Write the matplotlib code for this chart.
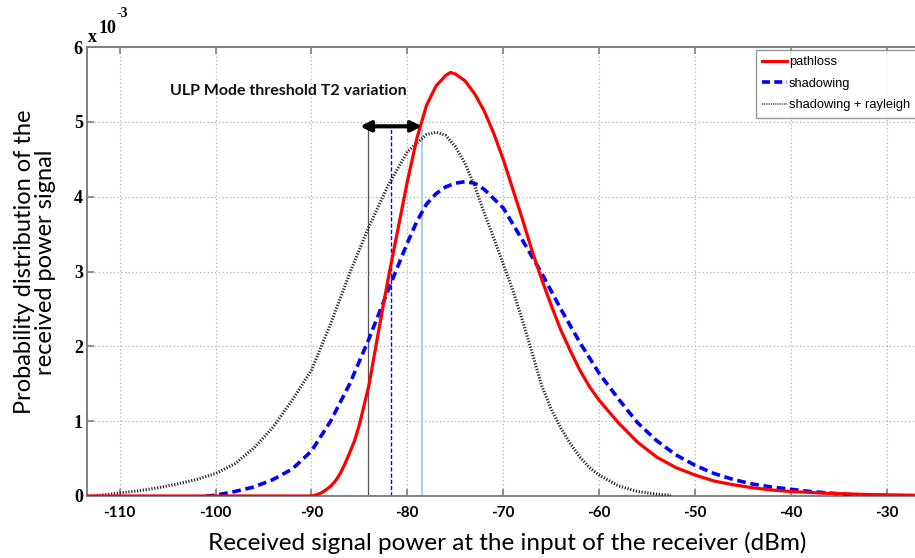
import matplotlib
matplotlib.use("Agg")
import matplotlib.pyplot as plt
from matplotlib.lines import Line2D

# Received power (dBm) and probability density (x 1e-3) for each propagation model
pathloss_x = [-113.4, -95, -90, -89.5, -89, -88.5, -88, -87.5, -87, -86.5, -86, -85.5, -85,
              -84, -83, -82, -81, -80, -79, -78, -77, -76, -75.5, -75, -74, -73, -72, -71,
              -70, -69, -68, -67, -66, -65, -64, -63, -62, -61, -60, -58, -56, -54, -52,
              -50, -48, -46, -44, -42, -40, -36, -32, -27]
pathloss_y = [0.0, 0.0, 0.0, 0.015, 0.04, 0.08, 0.13, 0.2, 0.3, 0.43, 0.58, 0.74, 0.95,
              1.48, 2.2, 2.9, 3.55, 4.2, 4.78, 5.22, 5.48, 5.62, 5.66, 5.64, 5.55, 5.38,
              5.15, 4.85, 4.5, 4.1, 3.7, 3.28, 2.9, 2.55, 2.22, 1.94, 1.68, 1.46, 1.28,
              0.98, 0.72, 0.52, 0.38, 0.28, 0.20, 0.15, 0.11, 0.08, 0.06, 0.035, 0.02,
              0.01]

shadowing_x = [-101, -100, -98, -96, -94, -92, -90, -88, -86, -84, -82, -80, -79, -78, -77,
               -76, -75, -74, -73, -72, -70, -68, -66, -64, -62, -60, -58, -56, -54, -52,
               -50, -48, -46, -44, -42, -40, -38, -36, -34, -33]
shadowing_y = [0.0, 0.01, 0.06, 0.12, 0.22, 0.36, 0.6, 1.0, 1.5, 2.1, 2.75, 3.38, 3.67,
               3.9, 4.04, 4.13, 4.18, 4.2, 4.18, 4.1, 3.85, 3.42, 2.98, 2.5, 2.05, 1.64,
               1.3, 0.98, 0.74, 0.55, 0.41, 0.30, 0.22, 0.16, 0.12, 0.09, 0.06, 0.04,
               0.02, 0.01]

rayleigh_x = [-113, -112, -110, -108, -106, -104, -102, -100, -98, -96, -94, -92, -90,
              -88, -86, -84, -82, -80, -78, -77, -76, -75, -74, -73, -72, -71, -70, -69,
              -68, -67, -66, -65, -64, -63, -62, -61, -60, -58, -56, -54, -52.5]
rayleigh_y = [0.0, 0.01, 0.04, 0.07, 0.11, 0.16, 0.22, 0.30, 0.43, 0.64, 0.92, 1.28, 1.68,
              2.3, 2.98, 3.6, 4.15, 4.6, 4.83, 4.86, 4.82, 4.67, 4.45, 4.15, 3.79, 3.45,
              3.1, 2.75, 2.35, 1.92, 1.48, 1.16, 0.91, 0.70, 0.52, 0.38, 0.28, 0.136, 0.06,
              0.025, 0.01]

# Threshold T2 markers (dBm) and the span arrow
threshold_black = -84.07
threshold_blue = -81.7
threshold_light = -78.5
marker_top = 4.9
arrow_left, arrow_right, arrow_level = -84.93, -78.47, 4.94

x_ticks = [-110, -100, -90, -80, -70, -60, -50, -40, -30]
y_ticks = [0, 1, 2, 3, 4, 5, 6]

legend_labels = ["pathloss", "shadowing", "shadowing + rayleigh"]

W, H = 915, 558
fig = plt.figure(figsize=(W / 100, H / 100), dpi=100)
ax_left, ax_right, ax_top, ax_bottom = 87, 960, 47, 496
ax = fig.add_axes([ax_left / W, 1 - ax_bottom / H, (ax_right - ax_left) / W,
                   (ax_bottom - ax_top) / H])

px_per_unit = 95.9 / 10
x_min = -113.4
x_max = x_min + (ax_right - ax_left) / px_per_unit
ax.set_xlim(x_min, x_max)
ax.set_ylim(0, 6)

ax.grid(True, color="#b0b0b0", linestyle=(0, (1, 2)), linewidth=0.9)
ax.set_axisbelow(True)

ax.plot(pathloss_x, pathloss_y, color="#ff0000", linewidth=2.3, solid_capstyle="butt",
        solid_joinstyle="round", zorder=4)
ax.plot(shadowing_x, shadowing_y, color="#0000ff", linewidth=2.6,
        linestyle=(0, (2.4, 1.3)), zorder=3)
ax.plot(rayleigh_x, rayleigh_y, color="#222222", linewidth=2.2,
        linestyle=(0, (0.4, 0.55)), zorder=3)

# Threshold markers
ax.vlines(threshold_black, 0, marker_top, color="#555555", linewidth=0.9, zorder=2)
ax.vlines(threshold_blue, 0, marker_top, color="#0000ff", linewidth=1.0,
          linestyles=(0, (3, 1.5)), zorder=2)
ax.vlines(threshold_light, 0, marker_top, color="#9dc3e6", linewidth=1.2, zorder=2)
ax.annotate("", xy=(arrow_left, arrow_level), xytext=(arrow_right, arrow_level),
            arrowprops=dict(arrowstyle="<|-|>,head_length=0.6,head_width=0.3",
                            color="black", linewidth=3.0, shrinkA=0, shrinkB=0),
            zorder=5)
ax.text(-92.4, 5.41, "ULP Mode threshold T2 variation", fontsize=11.5,
        fontweight="bold", family="Lato", ha="center", va="center", color="#111111")

# Axes styling
for side in ("left", "bottom", "top"):
    ax.spines[side].set_color("#7f7f7f")
    ax.spines[side].set_linewidth(1.4)
ax.spines["right"].set_visible(False)

ax.set_xticks(x_ticks)
ax.set_xticklabels([str(t) for t in x_ticks])
ax.set_yticks(y_ticks)
ax.set_yticklabels([str(t) for t in y_ticks])
ax.tick_params(axis="both", direction="in", color="#7f7f7f", width=1.2, length=5,
               top=True)
ax.tick_params(axis="x", pad=7)
ax.tick_params(axis="y", pad=3)
for lbl in ax.get_xticklabels():
    lbl.set_fontfamily("Lato")
    lbl.set_fontweight("bold")
    lbl.set_fontsize(11)
for lbl in ax.get_yticklabels():
    lbl.set_fontfamily("Liberation Serif")
    lbl.set_fontweight("bold")
    lbl.set_fontsize(13)

# Exponent multiplier
fig.text(88 / W, 1 - 42 / H, "x", family="Liberation Serif", fontweight="bold",
         fontsize=13, ha="left", va="baseline")
fig.text(99 / W, 1 - 33 / H, "10", family="Liberation Serif", fontweight="bold",
         fontsize=13, ha="left", va="baseline")
fig.text(117 / W, 1 - 17 / H, "-3", family="Liberation Serif", fontweight="bold",
         fontsize=10, ha="left", va="baseline")

fig.text(507 / W, 1 - 543 / H, "Received signal power at the input of the receiver (dBm)",
         family="Lato", fontsize=17.5, ha="center", va="center")
fig.text(35 / W, 1 - 262 / H,
         "Probability distribution of the\nreceived power signal",
         family="Lato", fontsize=17, ha="center", va="center", rotation=90,
         linespacing=1.05)

handles = [
    Line2D([], [], color="#ff0000", linewidth=2.2),
    Line2D([], [], color="#0000ff", linewidth=2.6, linestyle=(0, (2.2, 1.2))),
    Line2D([], [], color="#333333", linewidth=1.2, linestyle=(0, (0.5, 0.6))),
]
leg = fig.legend(handles, legend_labels, loc="upper left",
                 bbox_to_anchor=(756 / W, 1 - 50 / H), frameon=True, fancybox=False,
                 prop={"family": "Liberation Sans", "size": 9.3}, handlelength=1.9,
                 handletextpad=0.15, borderpad=0.5, labelspacing=0.72,
                 borderaxespad=0)
leg.get_frame().set_edgecolor("#7f7f7f")
leg.get_frame().set_linewidth(1.0)

fig.savefig("out.png", dpi=100)
